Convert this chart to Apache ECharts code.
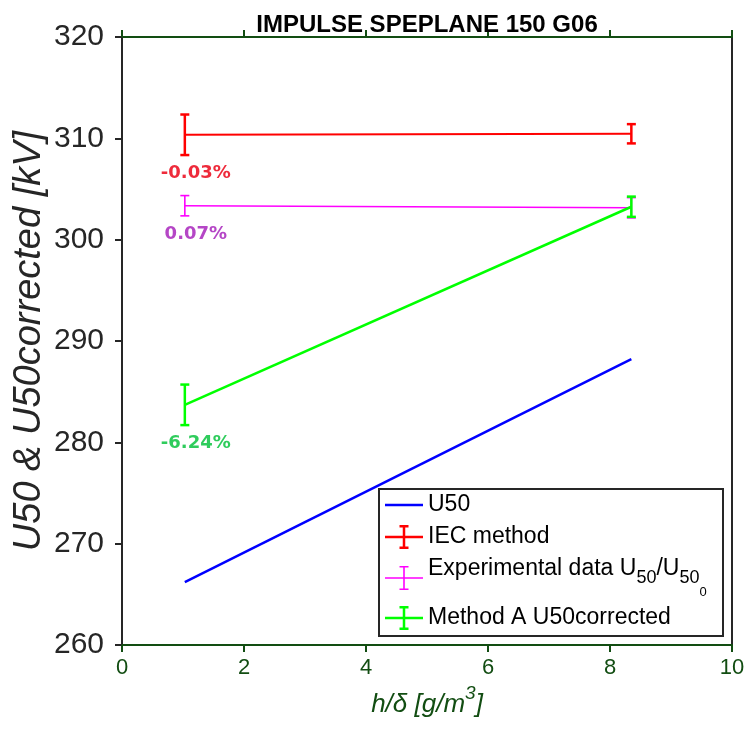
<!DOCTYPE html>
<html><head><meta charset="utf-8">
<script src="https://cdn.jsdelivr.net/npm/echarts@6/dist/echarts.min.js"></script>
<style>html,body{margin:0;padding:0;background:#fff}#c{width:744px;height:733px}</style>
</head><body><div id="c"></div>
<script>
// ---- data ----
const xPoints = [1.03, 8.35];
const u50 = [266.2, 288.2];
const iecValues = [310.35, 310.45];
const iecErr = [2.0, 0.95];
const expValues = [303.35, 303.15];
const expErr = [1.0, 1.0];
const methodAValues = [283.7, 303.25];
const methodAErr = [2.0, 1.0];
const iecNotes = ['-0.03%', ''];
const expNotes = ['0.07%', ''];
const methodANotes = ['-6.24%', ''];
const xTicks = [0, 2, 4, 6, 8, 10];
const yTicks = [260, 270, 280, 290, 300, 310, 320];

const GREEN_AX = '#124d12';
const GRAY_AX = '#262626';
const SANS = '"Liberation Sans", Arial, sans-serif';

function pts(vals){ return xPoints.map((x,i)=>[x, vals[i]]); }
function errData(vals, errs){ return xPoints.map((x,i)=>[x, vals[i]-errs[i], vals[i]+errs[i]]); }

function errSeries(name, vals, errs, notes, color, noteColor, lw){
  return {
    type:'custom', name: name + ' ', data: errData(vals, errs), z: 3,
    renderItem(params, api){
      const x = api.value(0);
      const lo = api.coord([x, api.value(1)]);
      const hi = api.coord([x, api.value(2)]);
      const c = 4.5;
      const st = {stroke: color, lineWidth: lw};
      const ch = [
        {type:'line', shape:{x1:lo[0], y1:lo[1], x2:hi[0], y2:hi[1]}, style:st},
        {type:'line', shape:{x1:lo[0]-c, y1:lo[1], x2:lo[0]+c, y2:lo[1]}, style:st},
        {type:'line', shape:{x1:hi[0]-c, y1:hi[1], x2:hi[0]+c, y2:hi[1]}, style:st}
      ];
      const t = notes[params.dataIndex];
      if (t) ch.push({type:'text', style:{text:t, x:lo[0]+11, y:lo[1]+18.5, fill:noteColor,
        font:'bold 18px "DejaVu Sans"', align:'center', verticalAlign:'middle'}});
      return {type:'group', children: ch};
    }
  };
}
function lineSeries(name, vals, color, lw){
  return {type:'line', name, data: pts(vals), symbol:'none', z:2,
    lineStyle:{color, width:lw}, itemStyle:{color}, emphasis:{disabled:true}};
}
function ebIcon(t){
  const h=t/2;
  return 'path://M0,'+(12-h)+'L38,'+(12-h)+'L38,'+(12+h)+'L0,'+(12+h)+'Z'+
    'M'+(19-h)+',0L'+(19+h)+',0L'+(19+h)+',24L'+(19-h)+',24Z'+
    'M14.5,0L23.5,0L23.5,'+t+'L14.5,'+t+'Z'+
    'M14.5,'+(24-t)+'L23.5,'+(24-t)+'L23.5,24L14.5,24Z';
}
// blockH: height of the legend item (max of icon and text block)
function legendAt(name, centerY, icon, ih, blockH){
  const d = {name, icon};
  return {data:[d], left:385, top:centerY - blockH/2, orient:'vertical', padding:0, itemWidth:38, itemHeight:ih,
    selectedMode:false, itemStyle:{borderWidth:0},
    textStyle:{fontFamily:SANS, fontSize:23, color:'#000', lineHeight:24,
      rich:{
        n:{fontFamily:SANS, fontSize:23, color:'#000', lineHeight:24, verticalAlign:'top'},
        s:{fontFamily:SANS, fontSize:18, color:'#000', lineHeight:24, verticalAlign:'middle'},
        ss:{fontFamily:SANS, fontSize:13, color:'#000', lineHeight:42, verticalAlign:'bottom'}
      }}};
}

const chart = echarts.init(document.getElementById('c'), null, {renderer:'canvas'});
const option = {
  animation:false,
  backgroundColor:'#fff',
  title:{text:'IMPULSE SPEPLANE 150 G06', left:422, top:8, textAlign:'center',
    textStyle:{fontFamily:SANS, fontWeight:'bold', fontSize:24, color:'#000'}},
  grid:{left:122, right:12, top:37, bottom:88, containLabel:false, outerBoundsMode:'none'},
  xAxis:[{
    type:'value', min:xTicks[0], max:xTicks[xTicks.length-1], interval:2, position:'bottom',
    name:'{a|h/δ [g/m}{p|3}{a|]}', nameLocation:'middle', nameGap:22,
    nameTextStyle:{rich:{
      a:{fontFamily:SANS, fontStyle:'italic', fontSize:26, color:GREEN_AX, lineHeight:34, verticalAlign:'bottom'},
      p:{fontFamily:SANS, fontStyle:'italic', fontSize:19, color:GREEN_AX, lineHeight:34, verticalAlign:'top'}}},
    axisLine:{show:true, onZero:false, lineStyle:{color:GREEN_AX, width:2}},
    axisTick:{show:true, inside:false, length:7, lineStyle:{color:GREEN_AX, width:2}},
    axisLabel:{margin:12, color:GREEN_AX, fontSize:22, fontFamily:SANS},
    splitLine:{show:false}
  },{
    type:'value', min:xTicks[0], max:xTicks[xTicks.length-1], interval:2, position:'top',
    axisLine:{show:true, onZero:false, lineStyle:{color:GREEN_AX, width:2}},
    axisTick:{show:true, inside:false, length:7, lineStyle:{color:GREEN_AX, width:2}},
    axisLabel:{show:false}, splitLine:{show:false}
  }],
  yAxis:[{
    type:'value', min:yTicks[0], max:yTicks[yTicks.length-1], interval:10, position:'left',
    name:'U50 & U50corrected [kV]', nameLocation:'middle', nameGap:74, nameMoveOverlap:false,
    nameTextStyle:{fontFamily:SANS, fontStyle:'italic', fontSize:38, color:GRAY_AX},
    axisLine:{show:true, onZero:false, lineStyle:{color:GRAY_AX, width:2}},
    axisTick:{show:true, inside:false, length:7, lineStyle:{color:GRAY_AX, width:2}},
    axisLabel:{margin:18, color:GRAY_AX, fontSize:30, fontFamily:SANS},
    splitLine:{show:false}
  },{
    type:'value', min:yTicks[0], max:yTicks[yTicks.length-1], interval:10, position:'right',
    axisLine:{show:true, onZero:false, lineStyle:{color:GRAY_AX, width:2}},
    axisTick:{show:false}, axisLabel:{show:false}, splitLine:{show:false}
  }],
  legend:[
    legendAt('U50', 505, 'rect', 2.5, 24),
    legendAt('IEC method', 537, ebIcon(2.5), 24, 24),
    Object.assign(legendAt('Experimental data U50/U500', 578, ebIcon(1.6), 24, 42),
      {formatter:()=>'{n|Experimental data U}{s|50}{n|/U}{s|50}{ss|0}'}),
    legendAt('Method A U50corrected', 618, ebIcon(2.5), 24, 24)
  ],
  graphic:[{type:'rect', shape:{x:379, y:489, width:344, height:147}, z:-1,
    style:{fill:'#fff', stroke:GRAY_AX, lineWidth:2}}],
  series:[
    lineSeries('U50', u50, '#0000ff', 2.5),
    lineSeries('IEC method', iecValues, '#ff0000', 2),
    errSeries('IEC method', iecValues, iecErr, iecNotes, '#ff0000', '#ee2b3b', 2.5),
    lineSeries('Experimental data U50/U500', expValues, '#ff00ff', 1.5),
    errSeries('Experimental data U50/U500', expValues, expErr, expNotes, '#ff00ff', '#b546c6', 1.6),
    lineSeries('Method A U50corrected', methodAValues, '#00ff00', 2.5),
    errSeries('Method A U50corrected', methodAValues, methodAErr, methodANotes, '#00ff00', '#2fcc5c', 2.5)
  ]
};
chart.setOption(option);
</script></body></html>
